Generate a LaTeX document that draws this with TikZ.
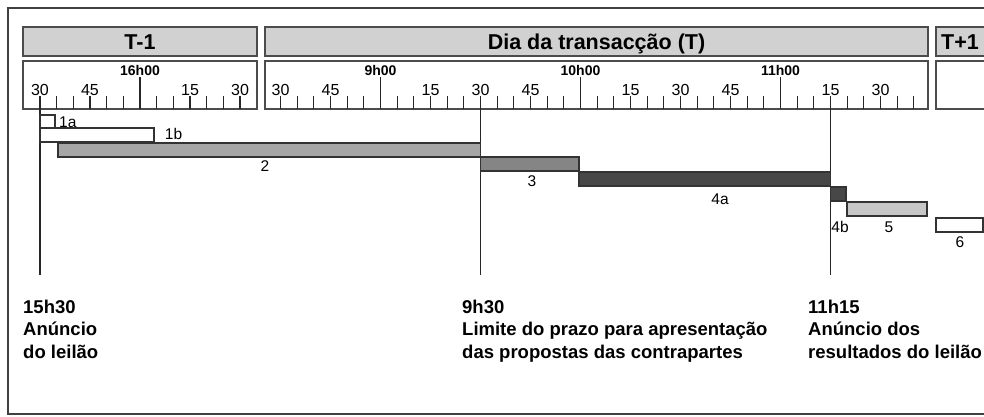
\documentclass[tikz,border=0pt]{standalone}
\usepackage{fontspec}
\setmainfont{Liberation Sans}
\begin{document}
\begin{tikzpicture}[x=1pt,y=-1pt,
  frame/.style={draw=black!75, line width=1.6pt},
  hdr/.style={draw=black!70, fill=black!18, line width=1.8pt},
  rulerbox/.style={draw=black!70, fill=white, line width=1.8pt},
  tk/.style={draw=black!85, line width=1.3pt},
  bar/.style={draw=black!80, line width=1.3pt},
  htext/.style={font=\fontsize{21.5}{21.5}\selectfont\bfseries, inner sep=0pt, anchor=base},
  lbl/.style={font=\fontsize{16}{16}\selectfont, inner sep=0pt, anchor=base},
  hlbl/.style={font=\fontsize{14}{14}\selectfont\bfseries, inner sep=0pt, anchor=base},
  blbl/.style={font=\fontsize{15.5}{15.5}\selectfont, inner sep=0pt, anchor=base},
  note/.style={font=\fontsize{18.5}{18.5}\selectfont\bfseries, inner sep=0pt, anchor=base west}
]
\clip (0,0) rectangle (984,416);
\fill[white] (0,0) rectangle (984,416);
% outer frame
\draw[frame] (8,8) rectangle (1000,414);
% header bars
\draw[hdr] (23,27) rectangle (257,56);
\draw[hdr] (265,27) rectangle (928,56);
\draw[hdr] (936,27) rectangle (1000,56);
\node[htext] (hT1) at (140,49.5) {T-1};
\node[htext] (hT) at (596.5,49.5) {Dia da transacção (T)};
\node[htext] (hTp) at (960,49.5) {T+1};
% ruler boxes
\draw[rulerbox] (23,61) rectangle (257,109);
\draw[rulerbox] (265,61) rectangle (928,109);
\draw[rulerbox] (936,61) rectangle (1000,109);
% ticks T-1
\foreach \m in {0,5,...,60} \draw[tk] ({40+\m*10/3},96) -- ({40+\m*10/3},109);
\draw[tk] (140,77) -- (140,109);
% ticks Dia
\foreach \m in {0,5,...,190} \draw[tk] ({280.5+\m*10/3},96) -- ({280.5+\m*10/3},109);
\foreach \m in {30,90,150} \draw[tk] ({280.5+\m*10/3},77) -- ({280.5+\m*10/3},109);
% ruler labels T-1
\foreach \m/\t [count=\i] in {0/30,15/45,45/15,60/30}
  \node[lbl] (la\i) at ({40+\m*10/3},95) {\t};
\node[hlbl] (h16) at (140,75) {16h00};
% ruler labels Dia
\foreach \m/\t [count=\i] in {0/30,15/45,45/15,60/30,75/45,105/15,120/30,135/45,165/15,180/30}
  \node[lbl] (lb\i) at ({280.5+\m*10/3},95) {\t};
\node[hlbl] (h9) at (380.5,75) {9h00};
\node[hlbl] (h10) at (580.5,75) {10h00};
\node[hlbl] (h11) at (780.5,75) {11h00};
% marker lines
\coordinate (m1t) at (40,96);   \coordinate (m1b) at (40,275);
\coordinate (m2t) at (480.5,96); \coordinate (m2b) at (480.5,275);
\coordinate (m3t) at (830.5,96); \coordinate (m3b) at (830.5,275);
\draw[tk] (m1t) -- (m1b);
\draw[tk] (m2t) -- (m2b);
\draw[tk] (m3t) -- (m3b);
% bars
\draw[bar, fill=white] (40,115) rectangle (55,128);
\draw[bar, fill=white] (40,128) rectangle (154,142);
\draw[bar, fill=black!35] (58,143) rectangle (480.5,157);
\draw[bar, fill=black!48] (480.5,157) rectangle (579,171);
\draw[bar, fill=black!72] (579,172) rectangle (830.5,186);
\draw[bar, fill=black!72] (830.5,187) rectangle (846,201);
\draw[bar, fill=black!22] (847,202) rectangle (927,216);
\draw[bar, fill=white] (936,218) rectangle (983,232);
% bar labels
\node[blbl, anchor=base west] (b1a) at (59,127) {1a};
\node[blbl] (b1b) at (173.5,139) {1b};
\node[blbl] (b2) at (265,171) {2};
\node[blbl] (b3) at (532,186) {3};
\node[blbl] (b4a) at (720,204) {4a};
\node[blbl] (b4b) at (840,232) {4b};
\node[blbl] (b5) at (889,232) {5};
\node[blbl] (b6) at (960,247) {6};
% bottom notes
\node[note] (n1a) at (23,313) {15h30};
\node[note] (n1b) at (23,335.5) {Anúncio};
\node[note] (n1c) at (23,358) {do leilão};
\node[note] (n2a) at (462,313) {9h30};
\node[note] (n2b) at (462,335.5) {Limite do prazo para apresentação};
\node[note] (n2c) at (462,358) {das propostas das contrapartes};
\node[note] (n3a) at (808,313) {11h15};
\node[note] (n3b) at (808,335.5) {Anúncio dos};
\node[note] (n3c) at (808,358) {resultados do leilão};
\end{tikzpicture}
\end{document}
